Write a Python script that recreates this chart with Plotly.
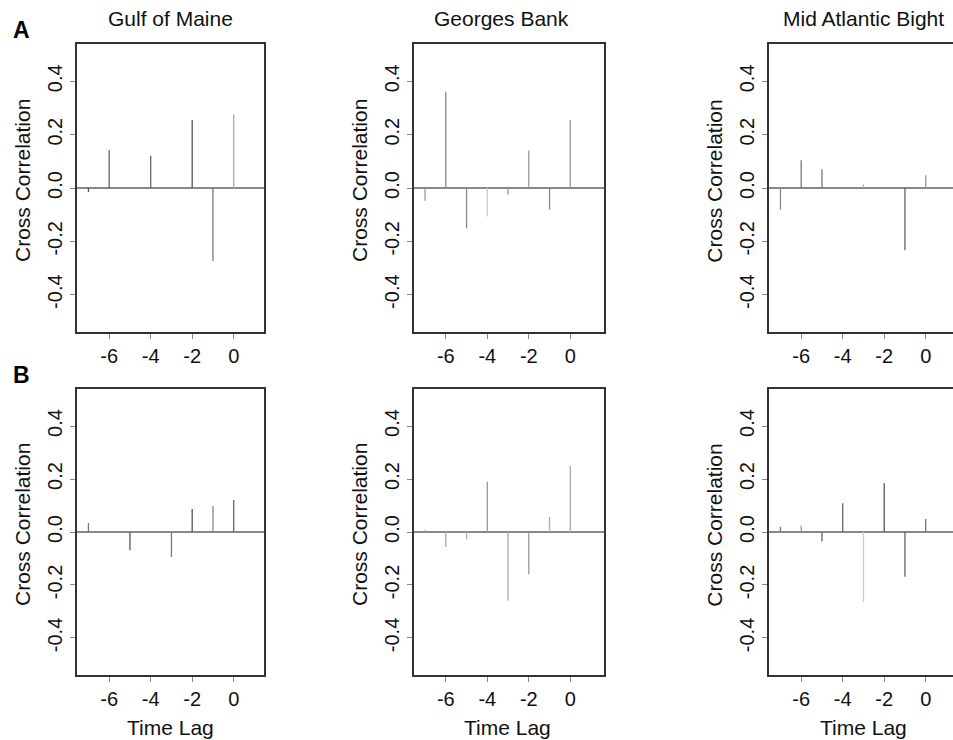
import plotly.graph_objects as go

# ---------------- data ----------------
lags = [-7, -6, -5, -4, -3, -2, -1, 0]
regions = ["Gulf of Maine", "Georges Bank", "Mid Atlantic Bight"]
row_letters = ["A", "B"]

gom_A = [-0.015, 0.142, 0.0, 0.121, 0.0, 0.255, -0.274, 0.277]
gb_A = [-0.048, 0.361, -0.151, -0.107, -0.025, 0.141, -0.082, 0.255]
mab_A = [-0.082, 0.104, 0.070, 0.0, 0.013, 0.0, -0.233, 0.048]

gom_B = [0.034, 0.0, -0.069, 0.0, -0.094, 0.087, 0.098, 0.121]
gb_B = [0.008, -0.057, -0.028, 0.190, -0.260, -0.160, 0.058, 0.249]
mab_B = [0.020, 0.025, -0.036, 0.109, -0.264, 0.184, -0.169, 0.049]

x_ticks = [-6, -4, -2, 0]
y_ticks = [-0.4, -0.2, 0.0, 0.2, 0.4]
y_label = "Cross Correlation"
x_label = "Time Lag"

# ---------------- styles ----------------
stem_colors = [
    ["#555", "#666", "#666", "#666", "#666", "#555", "#777", "#aaa"],
    ["#999", "#888", "#888", "#ccc", "#999", "#999", "#888", "#999"],
    ["#888", "#777", "#777", "#777", "#aaa", "#777", "#666", "#999"],
    ["#777", "#666", "#555", "#666", "#777", "#555", "#888", "#666"],
    ["#aaa", "#aaa", "#aaa", "#999", "#aaa", "#999", "#aaa", "#aaa"],
    ["#777", "#999", "#666", "#666", "#ccc", "#555", "#666", "#777"],
]

W, H = 953, 740
FONT = "Liberation Sans, Arial, Helvetica, sans-serif"


def px_x(p):
    return p / W


def px_y(p):
    return 1 - p / H


# panel pixel geometry (left, right, top, bottom) and pixel of x=0
unit = 20.75
col_geo = [(77, 264.3, 233.7), (414, 603.5, 570.3), (768.7, 953, 925.7)]
row_geo = [(44, 332), (389, 675)]

series = [gom_A, gb_A, mab_A, gom_B, gb_B, mab_B]

fig = go.Figure()
layout = dict(
    width=W, height=H, margin=dict(l=0, r=0, t=0, b=0),
    paper_bgcolor="white", plot_bgcolor="white", showlegend=False,
    font=dict(family=FONT, color="#111"),
)
annotations = []

for r in range(2):
    top, bot = row_geo[r]
    for c in range(3):
        k = r * 3 + c
        idx = "" if k == 0 else str(k + 1)
        left, right, zero = col_geo[c]
        xr = [(left - zero) / unit, (right - zero) / unit]
        vals = series[k]
        for i, (lag, v) in enumerate(zip(lags, vals)):
            fig.add_trace(go.Scatter(
                x=[lag, lag], y=[0, v], mode="lines",
                line=dict(color=stem_colors[k][i], width=1.3),
                xaxis="x" + idx, yaxis="y" + idx, hoverinfo="skip",
            ))
        layout["xaxis" + idx] = dict(
            domain=[px_x(left), px_x(right)], range=xr, anchor="y" + idx,
            tickmode="array", tickvals=x_ticks, ticktext=[str(t) for t in x_ticks],
            ticks="outside", ticklen=5, tickcolor="#888", tickwidth=1,
            showline=True, linecolor="#333", linewidth=2, mirror=True,
            showgrid=False, zeroline=False,
            tickfont=dict(size=20, family=FONT, color="#111"),
        )
        layout["yaxis" + idx] = dict(
            domain=[px_y(bot), px_y(top)], range=[-0.54, 0.54], anchor="x" + idx,
            tickmode="array", tickvals=y_ticks, ticktext=["%.1f" % t for t in y_ticks],
            ticks="outside", ticklen=5, tickcolor="#888", tickwidth=1,
            tickangle=-90,
            showline=True, linecolor="#333", linewidth=2,
            mirror=(c != 2),
            showgrid=False, zeroline=True, zerolinecolor="#888", zerolinewidth=1.5,
            tickfont=dict(size=20, family=FONT, color="#111"),
        )
        # y-axis label
        annotations.append(dict(
            text=y_label, textangle=-90, x=px_x(left - 55), y=px_y((top + bot) / 2 - 7),
            xref="paper", yref="paper", xanchor="center", yanchor="middle",
            showarrow=False, font=dict(size=21, family=FONT, color="#111"),
        ))
        if r == 0:
            tx = [170, 502, 863][c]
            annotations.append(dict(
                text=regions[c], x=px_x(tx), y=px_y(19),
                xref="paper", yref="paper", xanchor="center", yanchor="middle",
                showarrow=False, font=dict(size=21, family=FONT, color="#111"),
            ))
        else:
            tx = [170, 507, 863][c]
            annotations.append(dict(
                text=x_label, x=px_x(tx), y=px_y(727),
                xref="paper", yref="paper", xanchor="center", yanchor="middle",
                showarrow=False, font=dict(size=21, family=FONT, color="#111"),
            ))

for r, (letter, ly) in enumerate(zip(row_letters, [30, 375])):
    annotations.append(dict(
        text="<b>%s</b>" % letter, x=px_x(21), y=px_y(ly),
        xref="paper", yref="paper", xanchor="center", yanchor="middle",
        showarrow=False, font=dict(size=23, family=FONT, color="#000"),
    ))

layout["annotations"] = annotations
fig.update_layout(**layout)
fig.write_html("out.html")
